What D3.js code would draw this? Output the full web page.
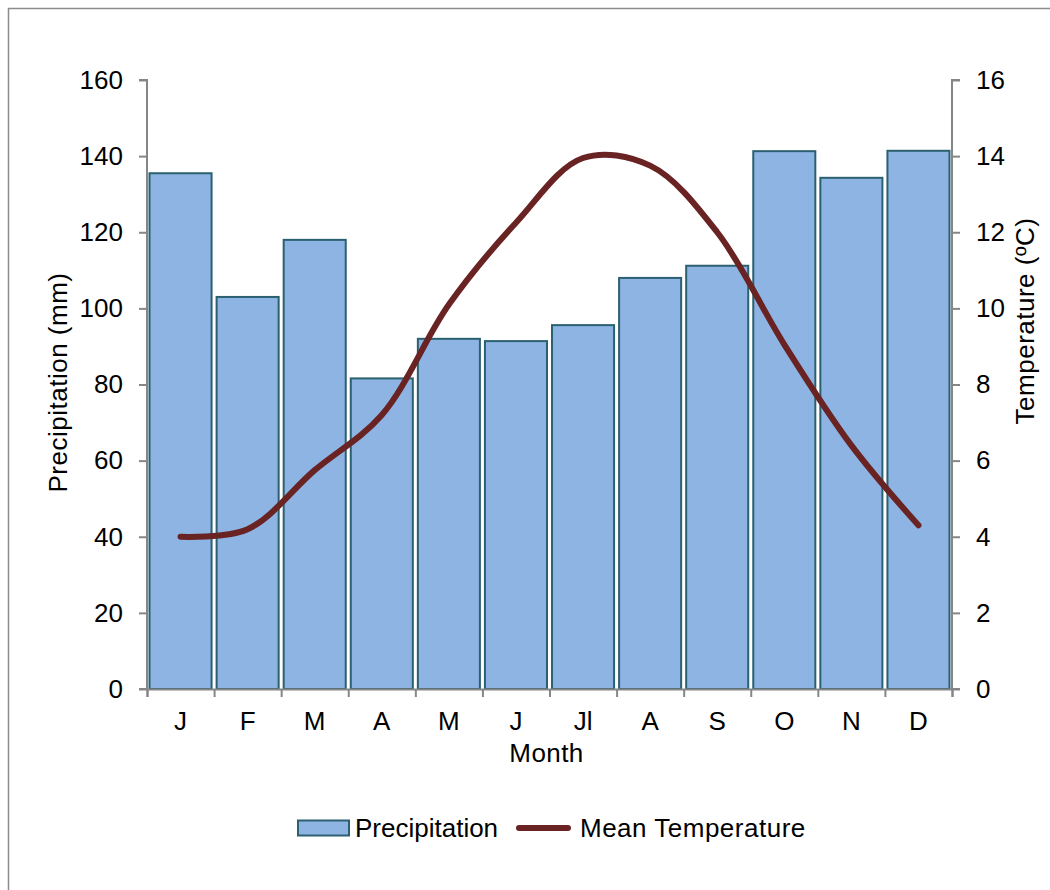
<!DOCTYPE html>
<html>
<head>
<meta charset="utf-8">
<script src="https://cdn.jsdelivr.net/npm/d3@7"></script>
<style>
  html, body { margin: 0; padding: 0; background: #fff; }
  svg { display: block; font-family: "Liberation Sans", Arial, sans-serif; }
</style>
</head>
<body>
<svg id="chart" width="1050" height="890"></svg>
<script>
// Monthly climate data
const months = ["J", "F", "M", "A", "M", "J", "Jl", "A", "S", "O", "N", "D"];
const precipitation = [135.5, 103, 118, 81.6, 92, 91.4, 95.6, 108, 111.2, 141.3, 134.3, 141.4];
const temperature = [4.0, 4.2, 5.75, 7.2, 10.1, 12.25, 13.95, 13.75, 12.0, 9.05, 6.4, 4.3];
const precipTicks = [0, 20, 40, 60, 80, 100, 120, 140, 160];
const tempTicks = [0, 2, 4, 6, 8, 10, 12, 14, 16];

const svg = d3.select("#chart");
const plotLeft = 147, plotRight = 952, plotTop = 80, plotBottom = 689;
const fontSize = 26;
const axisColor = "#868686";

// outer frame
svg.append("rect")
  .attr("x", 8.5).attr("y", 8.5)
  .attr("width", 1100).attr("height", 950)
  .attr("fill", "none").attr("stroke", "#8c8c8c").attr("stroke-width", 1.5);

const x = d3.scaleBand().domain(d3.range(months.length)).range([plotLeft, plotRight]).paddingInner(0.075).paddingOuter(0.0375);
const xEdge = d3.scaleLinear().domain([0, months.length]).range([plotLeft, plotRight]);
const yP = d3.scaleLinear().domain([0, 160]).range([plotBottom, plotTop]);
const yT = d3.scaleLinear().domain([0, 16]).range([plotBottom, plotTop]);

// bars
svg.append("g").selectAll("rect")
  .data(precipitation)
  .join("rect")
  .attr("x", (d, i) => x(i))
  .attr("y", d => yP(d))
  .attr("width", x.bandwidth())
  .attr("height", d => yP(0) - yP(d))
  .attr("fill", "#8EB4E3")
  .attr("stroke", "#2B6070")
  .attr("stroke-width", 2);

// left axis
const gL = svg.append("g").attr("transform", `translate(${plotLeft},0)`)
  .call(d3.axisLeft(yP).tickValues(precipTicks).tickSize(8).tickPadding(16));
// right axis
const gR = svg.append("g").attr("transform", `translate(${plotRight},0)`)
  .call(d3.axisRight(yT).tickValues(tempTicks).tickSize(8).tickPadding(16));
// bottom axis: ticks at category boundaries
const gB = svg.append("g").attr("transform", `translate(0,${plotBottom})`)
  .call(d3.axisBottom(xEdge).tickValues(d3.range(months.length + 1)).tickSize(8).tickFormat(""));

[gL, gR, gB].forEach(g => {
  g.select(".domain").attr("stroke", axisColor).attr("stroke-width", 2);
  g.selectAll(".tick line").attr("stroke", axisColor).attr("stroke-width", 2);
  g.selectAll("text").attr("font-size", fontSize).attr("fill", "#000")
    .attr("font-family", "'Liberation Sans', Arial, sans-serif");
});
gL.select(".domain").attr("d", `M-8,${plotTop}H0V${plotBottom}H-8`);
gR.select(".domain").attr("d", `M8,${plotTop}H0V${plotBottom}H8`);

// month labels
svg.append("g").selectAll("text")
  .data(months)
  .join("text")
  .attr("x", (d, i) => x(i) + x.bandwidth() / 2)
  .attr("y", 730)
  .attr("text-anchor", "middle")
  .attr("font-size", fontSize)
  .text(d => d);

// axis titles
svg.append("text")
  .attr("x", (plotLeft + plotRight) / 2 - 3).attr("y", 762)
  .attr("text-anchor", "middle").attr("font-size", fontSize)
  .attr("letter-spacing", 0.4)
  .text("Month");
svg.append("text")
  .attr("transform", `translate(67,${(plotTop + plotBottom) / 2 - 2}) rotate(-90)`)
  .attr("text-anchor", "middle").attr("font-size", fontSize)
  .attr("letter-spacing", 0.5)
  .text("Precipitation  (mm)");
svg.append("text")
  .attr("transform", `translate(1034,321) rotate(-90)`)
  .attr("text-anchor", "middle").attr("font-size", fontSize)
  .attr("letter-spacing", 0.5)
  .text("Temperature (ºC)");

// temperature line
const line = d3.line()
  .x((d, i) => x(i) + x.bandwidth() / 2)
  .y(d => yT(d))
  .curve(d3.curveCatmullRom.alpha(0.5));
svg.append("path")
  .datum(temperature)
  .attr("d", line)
  .attr("fill", "none")
  .attr("stroke", "#692323")
  .attr("stroke-width", 6)
  .attr("stroke-linecap", "round")
  .attr("stroke-linejoin", "round");

// legend
const lg = svg.append("g");
lg.append("rect").attr("x", 298).attr("y", 820.5).attr("width", 51).attr("height", 15)
  .attr("fill", "#8EB4E3").attr("stroke", "#2B6070").attr("stroke-width", 2);
lg.append("text").attr("x", 355).attr("y", 837).attr("font-size", fontSize).text("Precipitation");
lg.append("line").attr("x1", 519).attr("x2", 568).attr("y1", 828).attr("y2", 828)
  .attr("stroke", "#692323").attr("stroke-width", 6).attr("stroke-linecap", "round");
lg.append("text").attr("x", 580).attr("y", 837).attr("font-size", fontSize)
  .attr("letter-spacing", 0.5).text("Mean Temperature");
</script>
</body>
</html>
